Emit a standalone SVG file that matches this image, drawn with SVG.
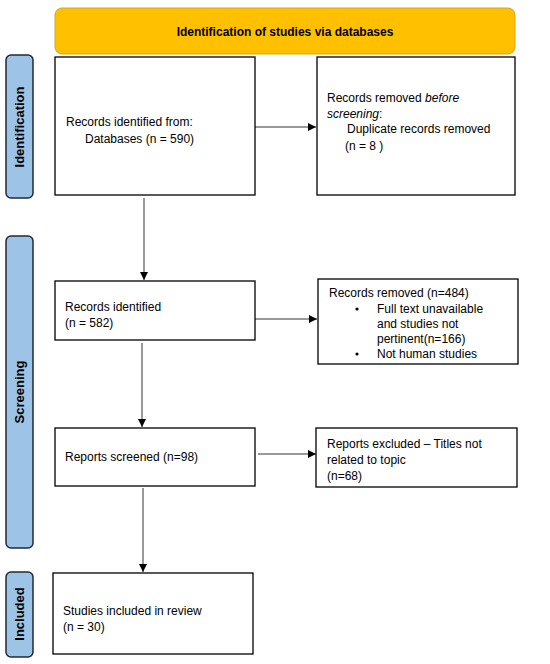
<svg xmlns="http://www.w3.org/2000/svg" width="550" height="664" viewBox="0 0 550 664">
<defs>
<marker id="ah" markerWidth="9" markerHeight="9" refX="8" refY="4.5" orient="auto" markerUnits="userSpaceOnUse">
<path d="M0,0.5 L8,4.5 L0,8.5 Z" fill="#000"/>
</marker>
<style>
.box{fill:#fff;stroke:#000;stroke-width:1.3}
.side{fill:#9DC3E6;stroke:#1f2a38;stroke-width:1.5}
.t{font-family:"Liberation Sans",Arial,sans-serif;font-size:12px;fill:#000}
.b{font-family:"Liberation Sans",Arial,sans-serif;font-size:12px;font-weight:bold;fill:#000}
.s{font-family:"Liberation Sans",Arial,sans-serif;font-size:13px;font-weight:bold;fill:#000}
.c{stroke:#000;stroke-width:0.8;fill:none;marker-end:url(#ah)}
</style>
</defs>
<rect width="550" height="664" fill="#fff"/>
<g id="banner">
<rect x="55" y="8" width="460" height="46" rx="7" fill="#FFC000" stroke="#D4A520" stroke-width="1"/>
<text class="b" x="285" y="36" text-anchor="middle">Identification of studies via databases</text>
</g>
<g id="label-identification">
<rect class="side" x="6" y="55" width="27" height="143" rx="5"/>
<text class="s" transform="translate(24,127) rotate(-90)" text-anchor="middle">Identification</text>
</g>
<g id="label-screening">
<rect class="side" x="6" y="236" width="27" height="312" rx="5"/>
<text class="s" transform="translate(24,392) rotate(-90)" text-anchor="middle">Screening</text>
</g>
<g id="label-included">
<rect class="side" x="6" y="572" width="27" height="85" rx="5"/>
<text class="s" transform="translate(24,614) rotate(-90)" text-anchor="middle">Included</text>
</g>
<g id="n1">
<rect class="box" x="55" y="57" width="200" height="138"/>
<text class="t" x="66" y="126">Records identified from:</text>
<text class="t" x="85" y="143">Databases (n = 590)</text>
</g>
<g id="n2">
<rect class="box" x="317" y="57" width="198" height="138"/>
<text class="t" x="327" y="102">Records removed <tspan font-style="italic">before</tspan></text>
<text class="t" x="327" y="118"><tspan font-style="italic">screening</tspan>:</text>
<text class="t" x="347" y="133">Duplicate records removed</text>
<text class="t" x="345" y="150">(n = 8 )</text>
</g>
<g id="n3">
<rect class="box" x="55" y="281" width="200" height="59"/>
<text class="t" x="65" y="311">Records identified</text>
<text class="t" x="65" y="327">(n = 582)</text>
</g>
<g id="n4">
<rect class="box" x="318" y="279" width="200" height="85"/>
<text class="t" x="329" y="297">Records removed (n=484)</text>
<circle cx="357" cy="309" r="1.6" fill="#000"/>
<text class="t" x="377" y="313">Full text unavailable</text>
<text class="t" x="377" y="328">and studies not</text>
<text class="t" x="377" y="343">pertinent(n=166)</text>
<circle cx="357" cy="354" r="1.6" fill="#000"/>
<text class="t" x="377" y="358">Not human studies</text>
</g>
<g id="n5">
<rect class="box" x="55" y="428" width="200" height="58"/>
<text class="t" x="65" y="461">Reports screened (n=98)</text>
</g>
<g id="n6">
<rect class="box" x="316" y="428" width="201" height="59"/>
<text class="t" x="327" y="448">Reports excluded – Titles not</text>
<text class="t" x="327" y="464">related to topic</text>
<text class="t" x="327" y="480">(n=68)</text>
</g>
<g id="n7">
<rect class="box" x="53" y="573" width="200" height="81"/>
<text class="t" x="63" y="615">Studies included in review</text>
<text class="t" x="63" y="631">(n = 30)</text>
</g>
<g id="connectors">
<line class="c" x1="255" y1="127" x2="316" y2="127"/>
<line class="c" x1="144" y1="198" x2="144" y2="280"/>
<line class="c" x1="255" y1="319" x2="317" y2="319"/>
<line class="c" x1="142" y1="343" x2="142" y2="427"/>
<line class="c" x1="258" y1="454" x2="316" y2="454"/>
<line class="c" x1="143" y1="488" x2="143" y2="572"/>
</g>
</svg>
